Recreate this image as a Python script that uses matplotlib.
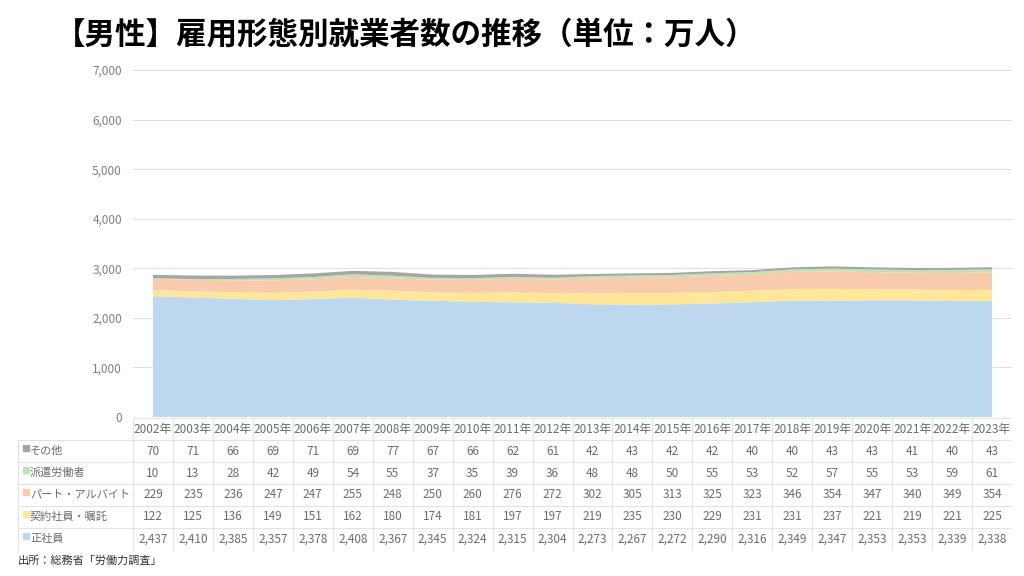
import numpy as np
import matplotlib.pyplot as plt

plt.rcParams['font.family'] = ['Noto Sans CJK JP', 'DejaVu Sans']

years = [f'{y}年' for y in range(2002, 2024)]
seishain = [2437, 2410, 2385, 2357, 2378, 2408, 2367, 2345, 2324, 2315, 2304,
            2273, 2267, 2272, 2290, 2316, 2349, 2347, 2353, 2353, 2339, 2338]
keiyaku = [122, 125, 136, 149, 151, 162, 180, 174, 181, 197, 197,
           219, 235, 230, 229, 231, 231, 237, 221, 219, 221, 225]
part = [229, 235, 236, 247, 247, 255, 248, 250, 260, 276, 272,
        302, 305, 313, 325, 323, 346, 354, 347, 340, 349, 354]
haken = [10, 13, 28, 42, 49, 54, 55, 37, 35, 39, 36,
         48, 48, 50, 55, 53, 52, 57, 55, 53, 59, 61]
sonota = [70, 71, 66, 69, 71, 69, 77, 67, 66, 62, 61,
          42, 43, 42, 42, 40, 40, 43, 43, 41, 40, 43]

series = [seishain, keiyaku, part, haken, sonota]
names = ['正社員', '契約社員・嘱託', 'パート・アルバイト', '派遣労働者', 'その他']
colors = ['#BDD7EE', '#FFE699', '#F8CBAD', '#C5E0B4', '#A5A5A5']

W, H = 1024, 576
fig = plt.figure(figsize=(W / 100, H / 100), dpi=100)

# main area chart
ax = fig.add_axes([133 / W, 1 - 417 / H, (1012 - 133) / W, (417 - 70) / H])
x = np.arange(len(years)) + 0.5
ax.stackplot(x, *series, colors=colors, linewidth=0)
ax.set_xlim(0, len(years))
ax.set_ylim(0, 7000)
ax.set_yticks(range(0, 7001, 1000))
ax.set_yticklabels([f'{v:,}' for v in range(0, 7001, 1000)], color='#7f7f7f', fontsize=8.5)
ax.set_xticks([])
ax.yaxis.grid(True, color='#e0e0e0', linewidth=0.8)
ax.set_axisbelow(True)
ax.tick_params(axis='y', length=0, pad=8)
for s in ax.spines.values():
    s.set_visible(False)

# data table under the chart
L = 115 / ((1012 - 133) / len(years))
tab = fig.add_axes([18 / W, 1 - 550 / H, (1012 - 18) / W, (550 - 418) / H])
tab.set_xlim(-L, len(years))
tab.set_ylim(6, 0)
tab.axis('off')
lc = '#e3e3e3'
n = len(years)
tab.plot([0, n], [0, 0], color=lc, lw=0.8)
for r in range(1, 7):
    tab.plot([-L, n], [r, r], color=lc, lw=0.8)
for c in range(n + 1):
    tab.plot([c, c], [0, 6], color=lc, lw=0.8)
tab.plot([-L, -L], [1, 6], color=lc, lw=0.8)

tc = '#6b6b6b'
for i, yl in enumerate(years):
    tab.text(i + 0.5, 0.5, yl, ha='center', va='center', fontsize=8.5, color=tc)

rows = list(zip(names, series, colors))[::-1]
for r, (nm, vals, col) in enumerate(rows, start=1):
    tab.text(-L + 0.08, r + 0.42, '■', ha='left', va='center', fontsize=6.5, color=col)
    tab.text(-L + 0.3, r + 0.5, nm, ha='left', va='center', fontsize=8, color=tc)
    for i, v in enumerate(vals):
        tab.text(i + 0.5, r + 0.5, f'{v:,}', ha='center', va='center', fontsize=8.5, color=tc)

fig.text(55 / W, 1 - 35 / H, '【男性】雇用形態別就業者数の推移（単位：万人）',
         fontsize=22, fontweight='bold', ha='left', va='center')
fig.text(18 / W, 1 - 561 / H, '出所：総務省「労働力調査」', fontsize=8,
         ha='left', va='center', color='#333333')

fig.savefig('out.png', dpi=100)
